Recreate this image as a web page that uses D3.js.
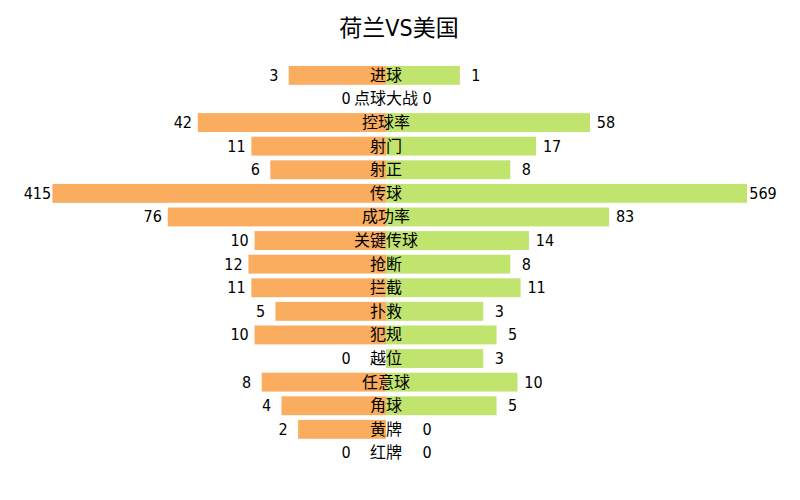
<!DOCTYPE html>
<html>
<head>
  <meta charset="utf-8">
  <script src="https://cdn.jsdelivr.net/npm/d3@7/dist/d3.min.js"></script>
  <style>
    body { margin: 0; background: #fff; }
    text { font-family: "Liberation Sans Narrow", "DejaVu Sans Condensed", "Noto Sans CJK SC", sans-serif; fill: #000; }
  </style>
</head>
<body>
  <script>
    var width = 800;
    var height = 500;

    var title = "荷兰VS美国";
    var categories = ["进球", "点球大战", "控球率", "射门", "射正", "传球", "成功率", "关键传球", "抢断", "拦截", "扑救", "犯规", "越位", "任意球", "角球", "黄牌", "红牌"];
    var holland = [3, 0, 42, 11, 6, 415, 76, 10, 12, 11, 5, 10, 0, 8, 4, 2, 0];
    var usa = [1, 0, 58, 17, 8, 569, 83, 14, 8, 11, 3, 5, 3, 10, 5, 0, 0];

    var cx = 386;
    var minW = 25;

    var svg = d3.select("body")
      .append("svg")
      .attr("width", width)
      .attr("height", height);

    var y = d3.scaleBand()
      .domain(categories)
      .range([61.2, 467.1])
      .padding(0.2);

    // bars are drawn on a fourth-root scale
    var x = d3.scalePow()
      .exponent(0.25)
      .domain([0, 569])
      .range([0, 361]);

    var rows = categories.map(function(c, i) {
      return { cat: c, left: holland[i], right: usa[i] };
    });

    svg.append("text")
      .attr("x", 399)
      .attr("y", 28)
      .attr("text-anchor", "middle")
      .attr("dominant-baseline", "central")
      .style("font-size", "23px")
      .text(title);

    var g = svg.selectAll("g.row")
      .data(rows)
      .enter()
      .append("g")
      .attr("class", "row");

    g.append("rect")
      .attr("x", function(d) { return cx - x(d.left); })
      .attr("y", function(d) { return y(d.cat); })
      .attr("width", function(d) { return x(d.left); })
      .attr("height", y.bandwidth())
      .style("fill", "#FAAD5F");

    g.append("rect")
      .attr("x", cx)
      .attr("y", function(d) { return y(d.cat); })
      .attr("width", function(d) { return x(d.right); })
      .attr("height", y.bandwidth())
      .style("fill", "#C1E46F");

    g.append("text")
      .attr("x", function(d) { return cx - Math.max(x(d.left), minW) - 15; })
      .attr("y", function(d) { return y(d.cat) + y.bandwidth() / 2; })
      .attr("text-anchor", "middle")
      .attr("dominant-baseline", "central")
      .style("font-size", "16px")
      .text(function(d) { return d.left; });

    g.append("text")
      .attr("x", function(d) { return cx + Math.max(x(d.right), minW) + 16; })
      .attr("y", function(d) { return y(d.cat) + y.bandwidth() / 2; })
      .attr("text-anchor", "middle")
      .attr("dominant-baseline", "central")
      .style("font-size", "16px")
      .text(function(d) { return d.right; });

    g.append("text")
      .attr("x", cx)
      .attr("y", function(d) { return y(d.cat) + y.bandwidth() / 2; })
      .attr("text-anchor", "middle")
      .attr("dominant-baseline", "central")
      .style("font-size", "16px")
      .text(function(d) { return d.cat; });
  </script>
</body>
</html>
